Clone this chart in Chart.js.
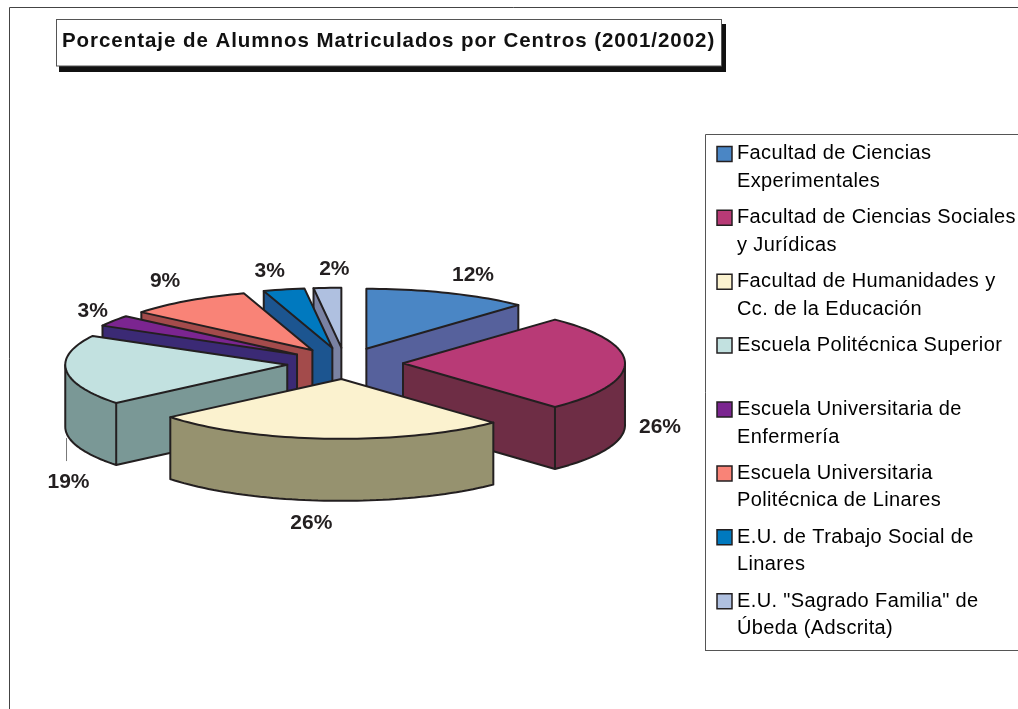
<!DOCTYPE html>
<html><head><meta charset="utf-8">
<style>html,body{margin:0;padding:0;background:#fff}#w{position:relative;width:1018px;height:709px}</style>
<script src="https://cdn.jsdelivr.net/npm/chart.js@4"></script>
</head><body><div id="w"><canvas id="c" width="1018" height="709"></canvas></div>
<script>
const chartTitle = "Porcentaje de Alumnos Matriculados por Centros (2001/2002)";
const categories = [
  ["Facultad de Ciencias","Experimentales"],
  ["Facultad de Ciencias Sociales","y Jurídicas"],
  ["Facultad de Humanidades y","Cc. de la Educación"],
  ["Escuela Politécnica Superior",""],
  ["Escuela Universitaria de","Enfermería"],
  ["Escuela Universitaria","Politécnica de Linares"],
  ["E.U. de Trabajo Social de","Linares"],
  ["E.U. \"Sagrado Familia\" de","Úbeda (Adscrita)"]
];
const percentages = [12,26,26,19,3,9,3,2];
const topColors  = ["#4a86c5","#b83a76","#fbf2cf","#c2e1e0","#7b2590","#f98377","#0079bf","#afc0e0"];
const wallColors = ["#56619c","#6e2d45","#96926f","#7a9896","#3b2a75","#a34b4b","#1c5590","#7a82a3"];
const labelNudges = [[1,-1],[-30,2],[-12,5],[67,48],[33,0],[14,-5],[0,-1],[11,-1]];

const FLAT = 0.27, DEPTH = 62, EXPLODE = 58, LABEL_R = 345, INK = "#231f20";

function shiftOf(arc){
  const mid=(arc.startAngle+arc.endAngle)/2;
  return {dx:Math.cos(mid)*EXPLODE, dy:Math.sin(mid)*EXPLODE};
}
function outline(arc){
  const {x,y,startAngle:s,endAngle:e,outerRadius:r} = arc.getProps(['x','y','startAngle','endAngle','outerRadius'],true);
  const {dx,dy}=shiftOf(arc), ax=x+dx, ay=y+dy;
  const pts=[{x:ax,y:y+(ay-y)*FLAT}];
  const n=Math.max(3,Math.ceil((e-s)/0.03));
  for(let k=0;k<=n;k++){const t=s+(e-s)*k/n; pts.push({x:ax+Math.cos(t)*r,y:y+(ay+Math.sin(t)*r-y)*FLAT});}
  return pts;
}

const pie3d = {
  id:'pie3d',
  afterLayout(chart){
    const t=chart.titleBlock, l=chart.legend, ctx=chart.ctx;
    t.left=62; t.right=1018;
    l.left=713.1; l.right=1018; l.top=135; l.bottom=651; l.width=305; l.height=516;
    if(!t._sp){t._sp=true; const d=t.draw.bind(t); t.draw=(...a)=>{ctx.letterSpacing='0.95px';d(...a);ctx.letterSpacing='0px';};}
    if(!l._sp){l._sp=true; const d=l.draw.bind(l); l.draw=(...a)=>{ctx.letterSpacing='0.38px';d(...a);ctx.letterSpacing='0px';};}
  },
  beforeDraw(chart){
    const c=chart.ctx;
    c.save();
    c.fillStyle='#fff'; c.fillRect(0,0,chart.width,chart.height);
    c.strokeStyle='#444'; c.lineWidth=1;
    c.beginPath(); c.moveTo(9.5,709); c.lineTo(9.5,7.5); c.lineTo(1018,7.5); c.stroke();
    c.fillStyle='#111'; c.fillRect(59,24,667,48);
    c.fillStyle='#fff'; c.fillRect(56,20,665,46);
    c.strokeStyle='#555'; c.strokeRect(56.5,19.5,665,46.5);
    c.beginPath(); c.moveTo(705.5,651); c.lineTo(705.5,134.5); c.lineTo(1018,134.5); c.moveTo(705,650.5); c.lineTo(1018,650.5); c.stroke();
    c.restore();
  },
  beforeDatasetsDraw(chart){
    const c=chart.ctx, arcs=chart.getDatasetMeta(0).data;
    const order=arcs.map((a,i)=>i).sort((i,j)=>{
      const m=a=>Math.sin((a.startAngle+a.endAngle)/2);
      return m(arcs[i])-m(arcs[j]);
    });
    order.forEach(i=>{
      const arc=arcs[i], pts=outline(arc), N=pts.length;
      const front=[]; for(let k=0;k<N;k++){front[k]=pts[(k+1)%N].x-pts[k].x<-1e-6;}
      c.save();
      c.lineJoin='round'; c.lineCap='round';
      c.fillStyle=wallColors[i];
      c.beginPath();
      for(let k=0;k<N;k++) if(front[k]){
        const a=pts[k],b=pts[(k+1)%N];
        c.moveTo(a.x,a.y); c.lineTo(b.x,b.y); c.lineTo(b.x,b.y+DEPTH); c.lineTo(a.x,a.y+DEPTH); c.closePath();
      }
      c.fill();
      c.strokeStyle=INK; c.lineWidth=2;
      c.beginPath();
      for(let k=0;k<N;k++) if(front[k]){
        const a=pts[k],b=pts[(k+1)%N];
        c.moveTo(a.x,a.y+DEPTH); c.lineTo(b.x,b.y+DEPTH);
      }
      for(let k=0;k<N;k++){
        const f0=front[(k-1+N)%N], f1=front[k];
        const corner=(k===0||k===1||k===N-1);
        if(f0!==f1 || (corner&&(f0||f1))){ c.moveTo(pts[k].x,pts[k].y); c.lineTo(pts[k].x,pts[k].y+DEPTH); }
      }
      c.stroke();
      c.restore();
      c.save();
      const {dx,dy}=shiftOf(arc);
      c.translate(0,arc.y); c.scale(1,FLAT); c.translate(0,-arc.y);
      c.translate(dx,dy);
      arc.draw(c);
      c.restore();
      c.save();
      c.lineJoin='round'; c.strokeStyle=INK; c.lineWidth=2;
      c.beginPath(); pts.forEach((p,k)=>k?c.lineTo(p.x,p.y):c.moveTo(p.x,p.y)); c.closePath(); c.stroke();
      c.restore();
    });
    return false;
  },
  afterDraw(chart){
    const c=chart.ctx, arcs=chart.getDatasetMeta(0).data;
    c.save();
    c.font='bold 21px "Liberation Sans", Arial, sans-serif';
    c.fillStyle=INK; c.textAlign='center'; c.textBaseline='middle';
    arcs.forEach((arc,i)=>{
      const m=(arc.startAngle+arc.endAngle)/2;
      const lower=Math.sin(m)>-0.1;
      const x=arc.x+Math.cos(m)*LABEL_R+labelNudges[i][0];
      const y=arc.y+Math.sin(m)*LABEL_R*FLAT+(lower?DEPTH:0)+labelNudges[i][1];
      c.fillText(percentages[i]+'%',x,y);
      if(i===3){
        c.strokeStyle='#777'; c.lineWidth=1;
        c.beginPath(); c.moveTo(x-2,y-44); c.lineTo(x-2,y-21); c.stroke();
      }
    });
    c.restore();
  }
};

new Chart(document.getElementById('c'),{
  type:'pie',
  data:{labels:categories,datasets:[{data:percentages,backgroundColor:topColors,borderWidth:0}]},
  plugins:[pie3d],
  options:{
    responsive:false,animation:false,
    radius:222,
    layout:{padding:{left:0,right:328,top:29,bottom:36}},
    plugins:{
      tooltip:{enabled:false},
      title:{display:true,text:chartTitle,align:'start',color:"#111",padding:0,
        font:{family:'"Liberation Sans", Arial, sans-serif',size:20.5,weight:'bold',lineHeight:1.2}},
      legend:{display:true,position:'chartArea',align:'start',
        labels:{color:INK,padding:8.9,boxWidth:5,boxHeight:15,usePointStyle:true,
          font:{family:'"Liberation Sans", Arial, sans-serif',size:20,lineHeight:1.375},
          generateLabels:()=>categories.map((t,i)=>({text:t,fillStyle:topColors[i],strokeStyle:INK,lineWidth:1.5,pointStyle:'rect',hidden:false,index:i}))
        }}
    }
  }
});
</script></body></html>
